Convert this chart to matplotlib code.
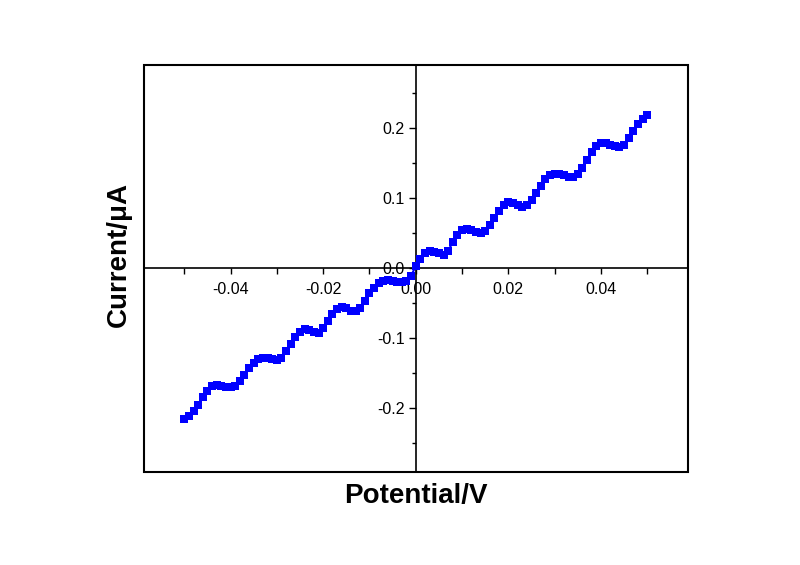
import matplotlib
matplotlib.use("Agg")
import matplotlib.pyplot as plt
from matplotlib.patches import Rectangle
from matplotlib.ticker import MultipleLocator, FormatStrFormatter

plt.rcParams['font.family'] = ['Liberation Sans', 'DejaVu Sans']

potential = [i / 1000.0 for i in range(-50, 51)]
current = [
    -0.216, -0.211, -0.204, -0.195, -0.184, -0.175, -0.169, -0.167, -0.168, -0.170,
    -0.170, -0.168, -0.162, -0.153, -0.143, -0.135, -0.130, -0.128, -0.129, -0.130,
    -0.131, -0.128, -0.119, -0.108, -0.098, -0.091, -0.087, -0.088, -0.091, -0.093,
    -0.086, -0.075, -0.066, -0.059, -0.056, -0.057, -0.061, -0.061, -0.057, -0.047,
    -0.036, -0.028, -0.021, -0.018, -0.017, -0.018, -0.0195, -0.0195, -0.018, -0.011,
    0.003,
    0.013, 0.021, 0.024, 0.023, 0.021, 0.019, 0.025, 0.037, 0.047, 0.054,
    0.056, 0.054, 0.051, 0.050, 0.053, 0.061, 0.071, 0.082, 0.091, 0.095,
    0.093, 0.090, 0.088, 0.090, 0.098, 0.107, 0.118, 0.127, 0.133, 0.135,
    0.134, 0.133, 0.131, 0.131, 0.134, 0.143, 0.154, 0.166, 0.175, 0.179,
    0.179, 0.176, 0.174, 0.173, 0.176, 0.186, 0.196, 0.206, 0.213, 0.219,
]
x_label = "Potential/V"
y_label = "Current/\u03bcA"

fig = plt.figure(figsize=(8, 5.65), dpi=100)
ax = fig.add_axes([143.5 / 800, 1 - 472 / 565, (688 - 143.5) / 800, (472 - 65) / 565])

ax.plot(potential, current, color='#0000ff', lw=1.5, marker='s', ms=6,
        markeredgewidth=0, zorder=3)

ax.set_xlim(-0.0588, 0.0588)
ax.set_ylim(-0.2915, 0.2905)

for s in ['top', 'right']:
    ax.spines[s].set_visible(False)
ax.spines['left'].set_position('zero')
ax.spines['bottom'].set_position('zero')
ax.spines['left'].set_linewidth(1.2)
ax.spines['bottom'].set_linewidth(1.2)

ax.add_patch(Rectangle((0, 0), 1, 1, transform=ax.transAxes, fill=False,
                       lw=1.5, edgecolor='black', clip_on=False, zorder=5))

ax.xaxis.set_major_locator(MultipleLocator(0.02))
ax.xaxis.set_minor_locator(MultipleLocator(0.01))
ax.yaxis.set_major_locator(MultipleLocator(0.1))
ax.yaxis.set_minor_locator(MultipleLocator(0.05))
ax.xaxis.set_major_formatter(FormatStrFormatter('%.2f'))
ax.yaxis.set_major_formatter(FormatStrFormatter('%.1f'))

ax.tick_params(axis='x', which='both', direction='out', length=4, width=1.0,
               labelsize=11.5, pad=6)
ax.tick_params(axis='y', which='major', direction='out', length=5, width=1.0,
               labelsize=11.5, pad=3)
ax.tick_params(axis='y', which='minor', direction='out', length=3, width=1.0)

fig.text(416 / 800, 1 - 496 / 565, x_label, fontsize=20, fontweight='bold',
         ha='center', va='center')
fig.text(119 / 800, 1 - 254 / 565, y_label, fontsize=20, fontweight='bold',
         ha='center', va='center', rotation=90)

fig.savefig("out.png", dpi=100)
